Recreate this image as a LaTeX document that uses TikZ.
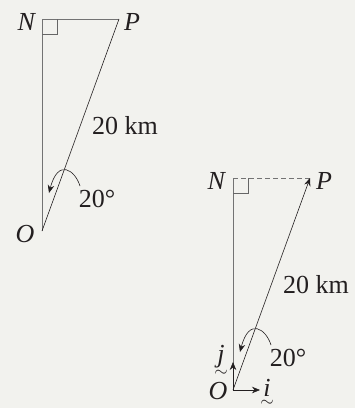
\documentclass[tikz,border=0pt]{standalone}
\usepackage{fontspec}
\setmainfont{Liberation Serif}
\usetikzlibrary{arrows.meta}
\definecolor{bg}{RGB}{242,242,238}
\definecolor{ink}{RGB}{35,31,32}
\newcommand{\tildeunder}[2]{\ooalign{\textit{#1}\cr\hidewidth\raisebox{#2}{\fontsize{16}{16}\selectfont$\sim$}\hidewidth\cr}}
\begin{document}
\begin{tikzpicture}[x=1pt,y=-1pt,
  side/.style={draw=black!55,line width=0.8pt},
  vec/.style={draw=ink,line width=0.6pt},
  lab/.style={text=ink,font=\fontsize{26}{27}\selectfont,inner sep=0pt},
  tip/.style={-{Stealth[length=8pt,width=6.5pt]}},
  rightang/.style={draw=black!60,line width=0.7pt}]
\fill[bg] (0,0) rectangle (355,408);
\useasboundingbox (0,0) rectangle (355,408);
% left figure
\coordinate (N1) at (42,19);
\coordinate (P1) at (119,19);
\coordinate (O1) at (42,231);
\draw[side] (P1) -- (N1) -- (O1);
\draw[vec] (O1) -- (P1);
\draw[rightang] (42,34) -- (57,34) -- (57,19);
\node[lab] (nN1) at (27,22) {\textit{N}};
\node[lab] (nP1) at (132,22) {\textit{P}};
\node[lab] (nO1) at (25,234) {\textit{O}};
\node[lab] (d1) at (125,126) {20 km};
\node[lab] (a1) at (97,199) {20°};
\draw[vec,tip] (80,186) .. controls (75,170) and (58,158) .. (49,193);
% right figure
\coordinate (N2) at (233,178);
\coordinate (P2) at (310,178);
\coordinate (O2) at (233,390);
\coordinate (J2) at (233,362);
\coordinate (I2) at (260,390);
\draw[side] (N2) -- (O2);
\draw[side,dashed,dash pattern=on 5pt off 3pt] (N2) -- (P2);
\draw[rightang] (233,193) -- (248,193) -- (248,178);
\draw[vec,tip] (O2) -- (P2);
\draw[vec,tip] (O2) -- (J2);
\draw[vec,tip] (O2) -- (I2);
\node[lab] (nN2) at (217,181) {\textit{N}};
\node[lab] (nP2) at (324,181) {\textit{P}};
\node[lab] (nO2) at (218,391) {\textit{O}};
\node[lab] (d2) at (316,285) {20 km};
\node[lab] (a2) at (288,358) {20°};
\node[lab,anchor=base] (nj) at (221,362) {\tildeunder{j}{-14pt}};
\node[lab,anchor=base] (ni) at (267,396) {\tildeunder{i}{-10pt}};
\draw[vec,tip] (271,345) .. controls (266,329) and (249,317) .. (240,352);
\end{tikzpicture}
\end{document}
